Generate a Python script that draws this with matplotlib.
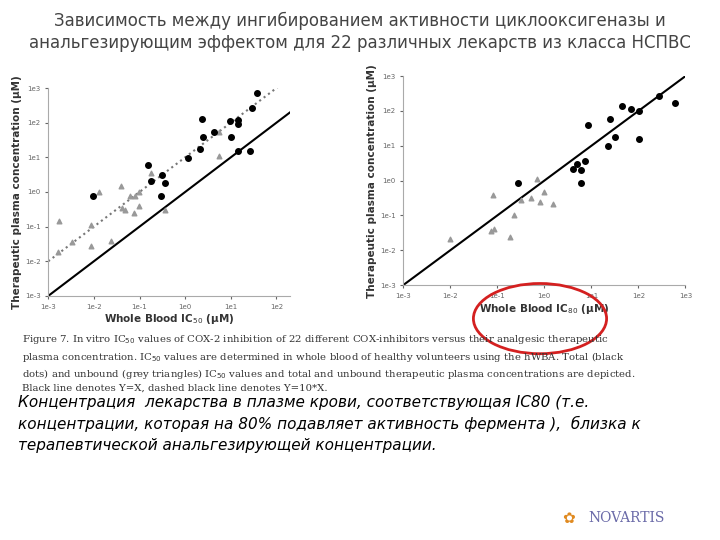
import numpy as np
import matplotlib.pyplot as plt
from matplotlib.patches import Ellipse

# left panel (log10 values)
L_blk_x = [-2.01,-0.81,-0.75,-0.51,-0.45,-0.53,0.06,0.32,0.36,0.40,0.64,0.99,1.01,1.15,1.16,1.16,1.42,1.47,1.57]
L_blk_y = [-0.11,0.78,0.31,0.48,0.27,-0.11,0.98,1.23,2.12,1.59,1.73,2.06,1.60,2.07,1.97,1.19,1.18,2.42,2.85]
L_tri_x = [-2.77,-2.78,-2.47,-2.07,-2.07,-1.88,-1.62,-1.40,-1.39,-1.31,-1.20,-1.09,-1.01,-1.02,-1.12,-0.75,-0.45,0.75,0.75]
L_tri_y = [-0.83,-1.72,-1.45,-0.96,-1.55,0.0,-1.42,0.17,-0.45,-0.52,-0.11,-0.11,0.0,-0.40,-0.62,0.54,-0.52,1.72,1.04]
# right panel (log10 values)
R_blk_x = [-0.56,0.61,0.70,0.79,0.79,0.86,0.92,1.35,1.40,1.51,1.65,1.84,2.01,2.01,2.43,2.77]
R_blk_y = [-0.08,0.32,0.49,0.30,-0.08,0.55,1.60,1.0,1.76,1.24,2.14,2.07,1.99,1.19,2.43,2.22]
R_tri_x = [-2.01,-1.09,-1.14,-1.08,-0.73,-0.65,-0.50,-0.29,-0.16,-0.10,-0.01,0.19]
R_tri_y = [-1.67,-0.42,-1.46,-1.40,-1.61,-1.0,-0.56,-0.49,0.05,-0.62,-0.33,-0.67]
ticks = ["1e-3","1e-2","1e-1","1e0","1e1","1e2","1e3"]

fig = plt.figure(figsize=(7.2,5.4), dpi=100)
fig.text(0.5, 0.978, "Зависимость между ингибированием активности циклооксигеназы и\nанальгезирующим эффектом для 22 различных лекарств из класса НСПВС",
         ha='center', va='top', fontsize=12, color='#444444', linespacing=1.25)

def panel(rect, bx, by, tx, ty, xmax, xlabel, dashed):
    ax = fig.add_axes(rect)
    p = lambda v: 10**np.array(v)
    ax.scatter(p(tx), p(ty), marker='^', s=11, color='#999999', zorder=3)
    ax.scatter(p(bx), p(by), marker='o', s=16, color='black', zorder=4)
    xs = np.array([1e-3, 10**xmax])
    ax.plot(xs, xs, color='black', lw=1.5)
    if dashed:
        ax.plot(xs, xs*10, color='#777777', lw=1.5, ls=':')
    ax.set_xscale('log'); ax.set_yscale('log')
    ax.set_xlim(1e-3, 10**xmax); ax.set_ylim(1e-3, 1e3)
    ax.set_xticks([10.0**k for k in range(-3, int(np.floor(xmax))+1)])
    ax.set_xticklabels(ticks[:int(np.floor(xmax))+4])
    ax.set_yticks([10.0**k for k in range(-3,4)]); ax.set_yticklabels(ticks)
    ax.minorticks_off()
    ax.tick_params(labelsize=5, colors='#666666', length=2)
    for s in ['top','right']: ax.spines[s].set_visible(False)
    for s in ['left','bottom']: ax.spines[s].set_color('#aaaaaa')
    ax.set_ylabel("Therapeutic plasma concentration (µM)", fontsize=7.5, fontweight='bold', color='#333333', labelpad=2)
    ax.set_xlabel(xlabel, fontsize=7.5, fontweight='bold', color='#333333', labelpad=2)
    return ax

panel([0.067,0.452,0.336,0.385], L_blk_x, L_blk_y, L_tri_x, L_tri_y, 2.3, "Whole Blood IC$_{50}$ (µM)", True)
ax2 = panel([0.56,0.472,0.392,0.387], R_blk_x, R_blk_y, R_tri_x, R_tri_y, 3.0, "Whole Blood IC$_{80}$ (µM)", False)
fig.patches.append(Ellipse((0.75,0.41), 0.185, 0.13, transform=fig.transFigure, fill=False, ec='#d42020', lw=2))

cap = ("Figure 7. In vitro IC$_{50}$ values of COX-2 inhibition of 22 different COX-inhibitors versus their analgesic therapeutic\n"
       "plasma concentration. IC$_{50}$ values are determined in whole blood of healthy volunteers using the hWBA. Total (black\n"
       "dots) and unbound (grey triangles) IC$_{50}$ values and total and unbound therapeutic plasma concentrations are depicted.\n"
       "Black line denotes Y=X, dashed black line denotes Y=10*X.")
fig.text(0.03, 0.383, cap, ha='left', va='top', fontsize=7.3, family='DejaVu Serif', color='#333333', linespacing=1.35)

ru = ("Концентрация  лекарства в плазме крови, соответствующая IC80 (т.е.\n"
      "концентрации, которая на 80% подавляет активность фермента ),  близка к\n"
      "терапевтической анальгезирующей концентрации.")
fig.text(0.025, 0.268, ru, ha='left', va='top', fontsize=11, style='italic', color='black', linespacing=1.45)
fig.text(0.87, 0.04, "NOVARTIS", ha='center', va='center', fontsize=10, color='#6a6aa8', family='DejaVu Serif')
fig.text(0.79, 0.04, "✿", ha='center', va='center', fontsize=11, color='#e08a20')

fig.savefig("out.png", dpi=100)
